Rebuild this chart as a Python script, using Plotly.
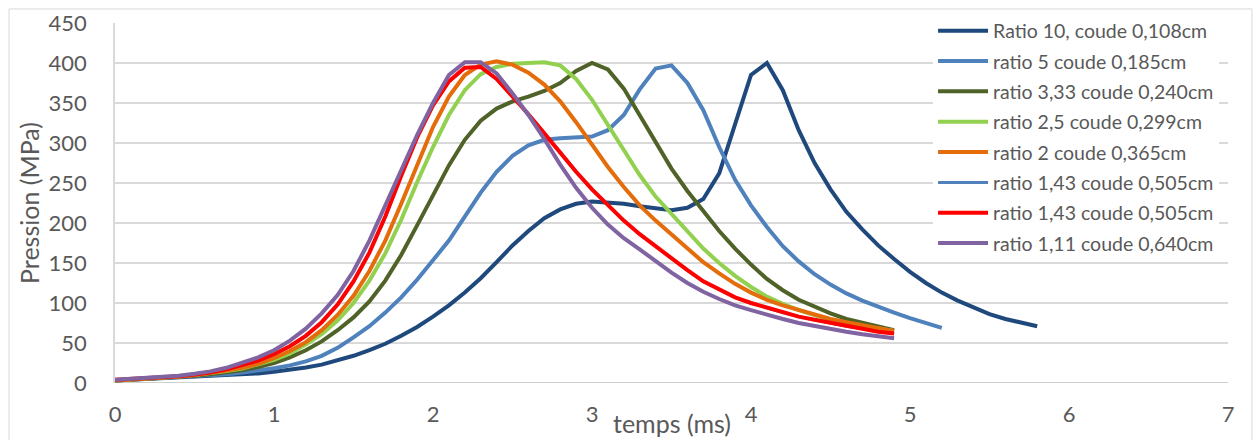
import numpy as np
import plotly.graph_objects as go

# Pressure (MPa) sampled every 0.1 ms from t = 0
STEP_MS = 0.1

p_ratio10 = [3, 4, 5, 6, 7, 7.5, 8.5, 9, 10, 12,
             14, 16.5, 19.5, 23, 28, 34, 41, 49, 59, 70,
             83, 97, 113, 131, 151, 172, 190, 206, 217, 224,
             227, 226, 224, 221, 218, 216, 219, 230, 262, 323,
             385, 400, 366, 316, 275, 242, 214, 192, 172, 155,
             139, 125, 113, 103, 94, 86, 80, 75, 71]

p_ratio5 = [3, 4, 5, 6, 7, 8, 9.5, 11, 13, 15.5,
            18.5, 22, 27, 34, 44, 57, 71, 88, 107, 129,
            153, 178, 208, 238, 264, 284, 297, 304, 306, 307,
            308, 316, 335, 367, 393, 397, 375, 341, 295, 254,
            222, 195, 171, 152, 136, 123, 112, 103, 95, 88,
            81, 75, 69]

p_ratio333 = [3, 4, 5, 6, 7.5, 9, 11, 13, 16, 20,
              25, 32, 41, 52, 66, 82, 102, 128, 160, 197,
              234, 272, 304, 328, 343, 352, 358, 365, 375, 390,
              400, 392, 368, 335, 300, 268, 240, 215, 190, 168,
              148, 130, 116, 104, 95, 87, 80, 75, 70, 66]

p_ratio25 = [3, 4, 5, 6.5, 8, 10, 12, 15, 18, 23,
             29, 37, 48, 61, 78, 100, 128, 162, 204, 251,
             295, 335, 366, 386, 395, 399, 400, 401, 397, 380,
             354, 322, 290, 260, 233, 211, 190, 168, 150, 134,
             120, 108, 99, 91, 85, 79, 75, 71, 68, 65]

p_ratio2 = [3, 4, 5, 6.5, 8, 10, 12.5, 15.5, 19, 24,
            31, 40, 51, 66, 85, 109, 140, 178, 224, 273,
            320, 358, 385, 398, 402, 398, 388, 373, 352, 326,
            298, 270, 245, 222, 203, 186, 168, 151, 137, 124,
            113, 104, 97, 91, 85, 80, 76, 72, 68, 65]

p_ratio143 = [4, 5, 6, 7, 8.5, 10.5, 13, 17, 22, 28,
              36, 46, 59, 76, 98, 127, 163, 208, 259, 307,
              347, 377, 394, 395, 380, 358, 336, 312, 288, 264,
              242, 222, 203, 186, 171, 155, 141, 127, 117, 107,
              100, 94, 88, 83, 79, 75, 71, 68, 64, 62]

p_ratio111 = [4, 5, 6, 7.5, 9, 11.5, 14.5, 19, 25, 32,
              41, 53, 68, 87, 110, 140, 178, 221, 266, 310,
              350, 385, 401, 401, 387, 362, 335, 305, 273, 244,
              219, 198, 181, 167, 152, 138, 125, 114, 105, 97,
              91, 85, 80, 75, 71, 67, 64, 61, 58, 56]

series_names = [
    "Ratio 10, coude 0,108cm",
    "ratio 5 coude 0,185cm",
    "ratio 3,33 coude 0,240cm",
    "ratio 2,5 coude 0,299cm",
    "ratio 2 coude 0,365cm",
    "ratio 1,43 coude 0,505cm",
    "ratio 1,43 coude 0,505cm",
    "ratio 1,11 coude 0,640cm",
]
series_values = [p_ratio10, p_ratio5, p_ratio333, p_ratio25,
                 p_ratio2, p_ratio143, p_ratio143, p_ratio111]
series_colors = ["#1F497D", "#4F81BD", "#4F6228", "#92D050",
                 "#E46C0A", "#4F81BD", "#FF0000", "#8064A2"]
series_widths = [4, 4, 4, 4, 4, 3, 4, 4]

y_ticks = [0, 50, 100, 150, 200, 250, 300, 350, 400, 450]
x_ticks = [0, 1, 2, 3, 4, 5, 6, 7]

FONT = "Lato, Calibri, sans-serif"
TEXT_GRAY = "#595959"

fig = go.Figure()
for i, (name, vals, col, w) in enumerate(zip(series_names, series_values,
                                             series_colors, series_widths)):
    t = np.round(np.arange(len(vals)) * STEP_MS, 2)
    fig.add_trace(go.Scatter(
        x=t, y=vals, mode="lines", name=name,
        line=dict(color=col, width=w),
        legendgroup=f"g{i}",
    ))

fig.update_layout(
    width=1258, height=440,
    margin=dict(l=115, r=30, t=23, b=57, autoexpand=False),
    paper_bgcolor="white", plot_bgcolor="white",
    font=dict(family=FONT, color=TEXT_GRAY, size=22),
    showlegend=True,
    legend=dict(
        x=0.735, y=1.032, xanchor="left", yanchor="top",
        bgcolor="white", font=dict(size=19.5, color=TEXT_GRAY),
        traceorder="grouped", tracegroupgap=2,
        itemwidth=50, maxheight=400,
    ),
    xaxis=dict(
        range=[0, 7], tickvals=x_ticks, showgrid=False, zeroline=False,
        showline=False, ticks="", ticklabelstandoff=16, automargin=False,
        tickfont=dict(size=22, color=TEXT_GRAY),
    ),
    yaxis=dict(
        range=[0, 450], tickvals=y_ticks, showgrid=True,
        gridcolor="#D9D9D9", gridwidth=1.5, zeroline=False,
        showline=True, linecolor="#D9D9D9", linewidth=1.5,
        ticks="", ticklabelstandoff=22, automargin=False,
        tickfont=dict(size=22, color=TEXT_GRAY),
        title=dict(text="Pression (MPa)", font=dict(size=25, color=TEXT_GRAY),
                   standoff=2),
    ),
    annotations=[dict(
        text="temps (ms)", xref="paper", yref="paper", x=0.5, y=-0.111,
        xanchor="center", yanchor="middle", showarrow=False,
        font=dict(size=25, color=TEXT_GRAY),
    )],
    shapes=[
        # x axis baseline
        dict(type="line", xref="paper", yref="y", x0=0, x1=1, y0=0, y1=0,
             line=dict(color="#BFBFBF", width=1.5), layer="below"),
        # chart frame
        dict(type="rect", xref="paper", yref="paper",
             x0=-0.0952, x1=1.0215, y0=-0.18, y1=1.039,
             line=dict(color="#D9D9D9", width=1), layer="below"),
    ],
)

fig.write_html("out.html")
